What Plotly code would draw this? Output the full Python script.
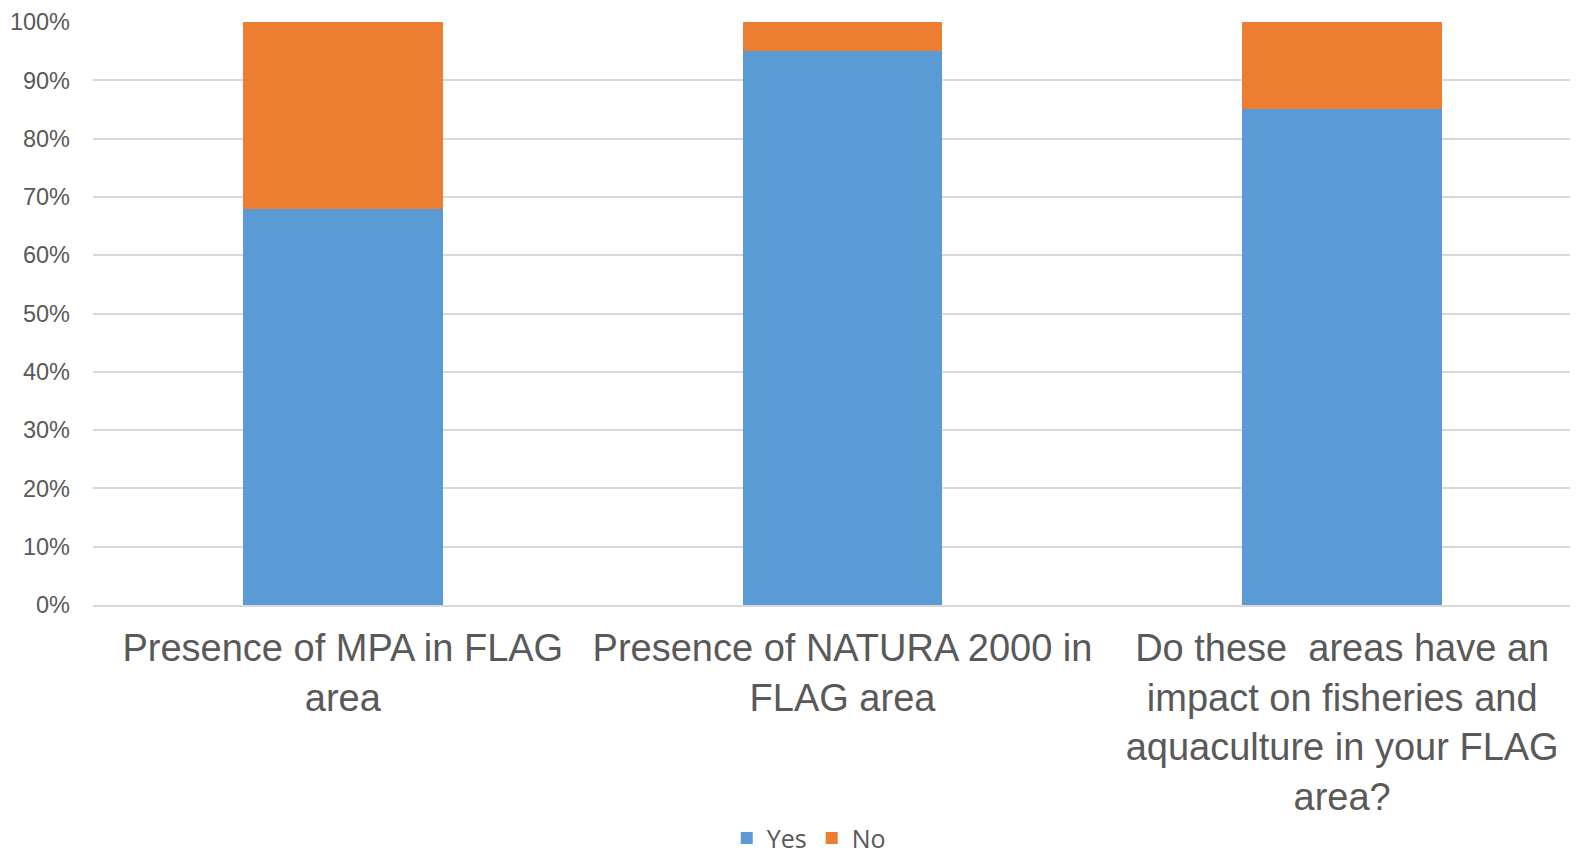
import plotly.graph_objects as go

categories = [
    "Presence of MPA in FLAG<br>area",
    "Presence of NATURA 2000 in<br>FLAG area",
    "Do these\u00a0 areas have an<br>impact on fisheries and<br>aquaculture in your FLAG<br>area?",
]
yes_values = [0.68, 0.95, 0.85]
no_values = [0.32, 0.05, 0.15]
tick_vals = [i / 10 for i in range(11)]
tick_text = [f"{i * 10}%" for i in range(11)]

fig = go.Figure()
fig.add_trace(go.Bar(x=categories, y=yes_values, name="Yes", marker_color="#5B9BD5", marker_line_width=0))
fig.add_trace(go.Bar(x=categories, y=no_values, name="No", marker_color="#ED7D31", marker_line_width=0))

fig.update_layout(
    width=1570, height=846,
    barmode="stack", bargap=0.6,
    plot_bgcolor="white", paper_bgcolor="white",
    margin=dict(l=85, r=0, t=14, b=249, autoexpand=False),
    font=dict(family="Liberation Sans, Arial, sans-serif", color="#595959"),
    legend=dict(orientation="h", x=0.482, y=-0.4, xanchor="center", yanchor="middle",
                traceorder="normal",
                font=dict(size=25, family="Open Sans, sans-serif", color="#595959"),
                itemwidth=30, tracegroupgap=0),
    showlegend=True,
)
fig.update_yaxes(range=[0, 1], tickvals=tick_vals, ticktext=tick_text,
                 tickfont=dict(size=23.5, color="#595959"),
                 showgrid=True, gridcolor="#D9D9D9", gridwidth=1.5,
                 zeroline=False, showline=False, ticks="", ticklabelstandoff=22,
                 automargin=False)
fig.update_xaxes(range=[-0.5, 2.472], tickfont=dict(size=38, color="#595959"), showline=True,
                 linecolor="#D9D9D9", linewidth=1.5, ticks="", ticklabelstandoff=9,
                 automargin=False)

fig.write_html("out.html")
